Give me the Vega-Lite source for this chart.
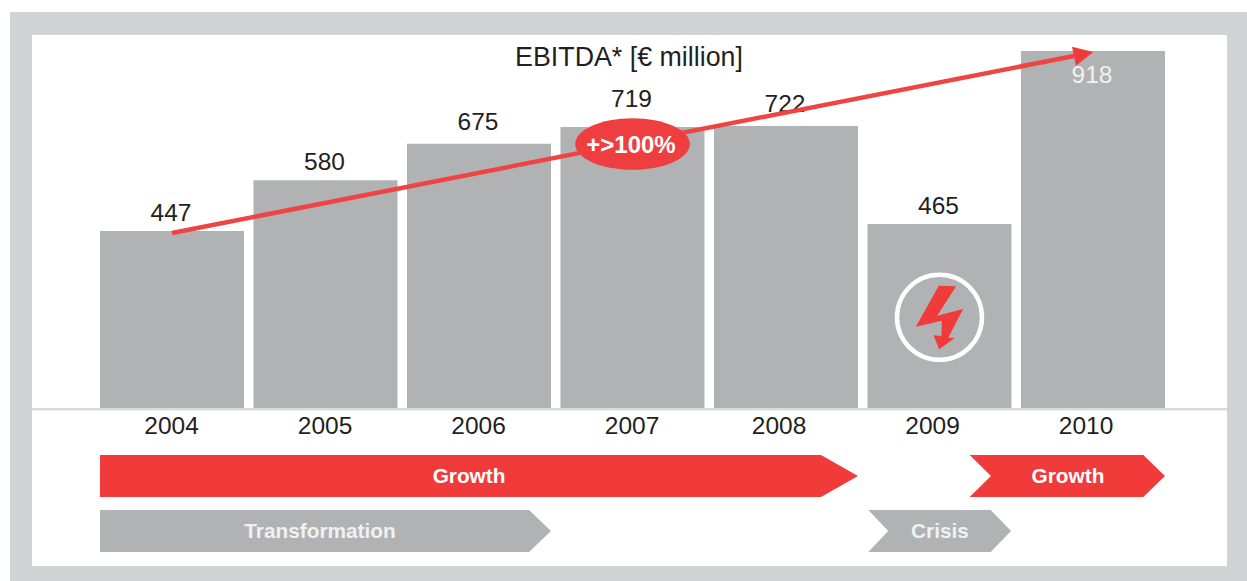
{
"$schema":"https://vega.github.io/schema/vega-lite/v6.json",
"width":1247,"height":581,"padding":0,"autosize":"none","background":"#ffffff",
"config":{"view":{"stroke":null},"axis":{"disable":true},"text":{"font":"Liberation Sans"}},
"datasets":{
"ebitda":[{"year":2004,"value":447},{"year":2005,"value":580},{"year":2006,"value":675},{"year":2007,"value":719},{"year":2008,"value":722},{"year":2009,"value":465},{"year":2010,"value":918}],
"phases":[
{"id":"g1","kind":"Growth","level":-139.5,"from":2003.5309,"to":2008.228},
{"id":"g1","kind":"Growth","level":-194.5,"from":2003.5309,"to":2008.4691},
{"id":"g1","kind":"Growth","level":-249.5,"from":2003.5309,"to":2008.228},
{"id":"g2","kind":"Growth","level":-139.5,"from":2009.1967,"to":2010.3277},
{"id":"g2","kind":"Growth","level":-194.5,"from":2009.3355,"to":2010.4691},
{"id":"g2","kind":"Growth","level":-249.5,"from":2009.1967,"to":2010.3277},
{"id":"t","kind":"Other","level":-283.5,"from":2003.5309,"to":2006.3257},
{"id":"t","kind":"Other","level":-338.5,"from":2003.5309,"to":2006.4691},
{"id":"t","kind":"Other","level":-393.5,"from":2003.5309,"to":2006.3257},
{"id":"c","kind":"Other","level":-283.5,"from":2008.5362,"to":2009.3336},
{"id":"c","kind":"Other","level":-338.5,"from":2008.6664,"to":2009.4658},
{"id":"c","kind":"Other","level":-393.5,"from":2008.5362,"to":2009.3336}
],
"phaseLabels":[
{"label":"Growth","year":2005.935,"level":-197,"c":"#ffffff"},
{"label":"Growth","year":2009.837,"level":-197,"c":"#ffffff"},
{"label":"Transformation","year":2004.964,"level":-341,"c":"#f1f1f2"},
{"label":"Crisis","year":2009.003,"level":-341,"c":"#f1f1f2"}
],
"trend":[{"year":2004,"level":441.6},{"year":2009.8762,"level":905}],
"head":[
{"level":929.3,"from":2009.8632,"to":2009.8632},
{"level":915.4,"from":2009.8704,"to":2010.002},
{"level":879.6,"from":2009.8893,"to":2009.8893}
]
},
"layer":[
{"data":{"values":[{"frame":"outer"}]},"mark":{"type":"rect","fill":"#d1d3d4"},"encoding":{
 "x":{"datum":2002.9446,"type":"quantitative","scale":{"domain":[2002.87948,2011.00326],"range":[0,1247],"nice":false,"zero":false,"padding":0}},
 "x2":{"datum":2011.00326},
 "y":{"datum":1020.2,"type":"quantitative","scale":{"domain":[-469.37,1051.57],"range":[581,0],"nice":false,"zero":false,"padding":0}},
 "y2":{"datum":-469.37}}},
{"data":{"values":[{"frame":"inner"}]},"mark":{"type":"rect","fill":"#ffffff"},"encoding":{
 "x":{"datum":2003.088,"type":"quantitative"},"x2":{"datum":2010.873},
 "y":{"datum":959.9,"type":"quantitative"},"y2":{"datum":-430.1}}},
{"data":{"name":"ebitda"},"mark":{"type":"bar","width":144,"fill":"#b1b2b4"},"encoding":{
 "x":{"field":"year","type":"quantitative"},
 "y":{"field":"value","type":"quantitative"},"y2":{"datum":-16.5}}},
{"data":{"values":[{"frame":"baseline"}]},"mark":{"type":"rule","stroke":"#d1d3d4","strokeWidth":2},"encoding":{
 "x":{"datum":2003.088,"type":"quantitative"},"x2":{"datum":2010.873},
 "y":{"datum":-19.5,"type":"quantitative"}}},
{"data":{"name":"ebitda"},"transform":[{"filter":"datum.year<=2007"}],"mark":{"type":"text","fontSize":24.5,"fill":"#231f20","dx":-0.5},"encoding":{
 "x":{"field":"year","type":"quantitative"},"y":{"datum":-66,"type":"quantitative"},"text":{"field":"year","type":"nominal"}}},
{"data":{"name":"ebitda"},"transform":[{"filter":"datum.year>=2008"}],"mark":{"type":"text","fontSize":24.5,"fill":"#231f20","dx":-7},"encoding":{
 "x":{"field":"year","type":"quantitative"},"y":{"datum":-66,"type":"quantitative"},"text":{"field":"year","type":"nominal"}}},
{"data":{"name":"ebitda"},"transform":[{"filter":"datum.value==447||datum.value==465||datum.value==580"}],"mark":{"type":"text","fontSize":24.5,"fill":"#231f20","dx":-1,"dy":-17},"encoding":{
 "x":{"field":"year","type":"quantitative"},"y":{"field":"value","type":"quantitative"},"text":{"field":"value","type":"quantitative"}}},
{"data":{"name":"ebitda"},"transform":[{"filter":"datum.value==675||datum.value==722"}],"mark":{"type":"text","fontSize":24.5,"fill":"#231f20","dx":-1,"dy":-21},"encoding":{
 "x":{"field":"year","type":"quantitative"},"y":{"field":"value","type":"quantitative"},"text":{"field":"value","type":"quantitative"}}},
{"data":{"name":"ebitda"},"transform":[{"filter":"datum.value==719"}],"mark":{"type":"text","fontSize":24.5,"fill":"#231f20","dx":-1,"dy":-27},"encoding":{
 "x":{"field":"year","type":"quantitative"},"y":{"field":"value","type":"quantitative"},"text":{"field":"value","type":"quantitative"}}},
{"data":{"values":[{"t":"EBITDA* [€ million]","year":2007,"level":900}]},"mark":{"type":"text","fontSize":26.8,"fill":"#231f20","dx":-3.5},"encoding":{
 "x":{"field":"year","type":"quantitative"},"y":{"field":"level","type":"quantitative"},"text":{"field":"t"}}},
{"data":{"name":"trend"},"mark":{"type":"line","stroke":"#ef4444","strokeWidth":4.5},"encoding":{
 "x":{"field":"year","type":"quantitative"},"y":{"field":"level","type":"quantitative"}}},
{"data":{"name":"head"},"mark":{"type":"area","orient":"horizontal","fill":"#f03b3a"},"encoding":{
 "x":{"field":"from","type":"quantitative"},"x2":{"field":"to"},"y":{"field":"level","type":"quantitative"}}},
{"data":{"name":"ebitda"},"transform":[{"filter":"datum.value==918"}],"mark":{"type":"text","fontSize":24.5,"fill":"#f1f1f2","dx":-1,"dy":25},"encoding":{
 "x":{"field":"year","type":"quantitative"},"y":{"field":"value","type":"quantitative"},"text":{"field":"value","type":"quantitative"}}},
{"data":{"values":[{"year":2007,"level":674.6,"t":"+>100%"}]},"layer":[
 {"mark":{"type":"point","filled":true,"opacity":1,"fill":"#ef3e3f","size":13133,"shape":"M-1,0C-1,-0.2485,-0.5523,-0.45,0,-0.45C0.5523,-0.45,1,-0.2485,1,0C1,0.2485,0.5523,0.45,0,0.45C-0.5523,0.45,-1,0.2485,-1,0Z"},"encoding":{
  "x":{"field":"year","type":"quantitative"},"y":{"field":"level","type":"quantitative"}}},
 {"mark":{"type":"text","fontSize":24,"fontWeight":"bold","fill":"#ffffff","dx":-1.5,"dy":1.5},"encoding":{
  "x":{"field":"year","type":"quantitative"},"y":{"field":"level","type":"quantitative"},"text":{"field":"t"}}}
]},
{"data":{"values":[{"year":2009,"level":220.9}]},"layer":[
 {"mark":{"type":"point","shape":"circle","filled":false,"opacity":1,"stroke":"#ffffff","strokeWidth":4.5,"size":7225},"encoding":{
  "x":{"field":"year","type":"quantitative"},"y":{"field":"level","type":"quantitative"}}},
 {"mark":{"type":"point","filled":true,"opacity":1,"fill":"#f03b3a","size":4444,"shape":"M-0.02,-0.95L0.5,-0.93L-0.07,-0.05L0.71,-0.25L0.26,0.61L0.46,0.62L-0.01,0.96L-0.18,0.54L0.06,0.56L0.07,0.1L-0.71,0.28Z"},"encoding":{
  "x":{"field":"year","type":"quantitative"},"y":{"field":"level","type":"quantitative"}}}
]},
{"data":{"name":"phases"},"mark":{"type":"area","orient":"horizontal"},"encoding":{
 "x":{"field":"from","type":"quantitative"},"x2":{"field":"to"},"y":{"field":"level","type":"quantitative"},
 "detail":{"field":"id"},
 "color":{"field":"kind","type":"nominal","scale":{"domain":["Growth","Other"],"range":["#f03b3a","#b1b2b4"]},"legend":null}}},
{"data":{"name":"phaseLabels"},"mark":{"type":"text","fontSize":20.8,"fontWeight":"bold"},"encoding":{
 "x":{"field":"year","type":"quantitative"},"y":{"field":"level","type":"quantitative"},"text":{"field":"label"},
 "color":{"field":"c","type":"nominal","scale":null}}}
]
}
